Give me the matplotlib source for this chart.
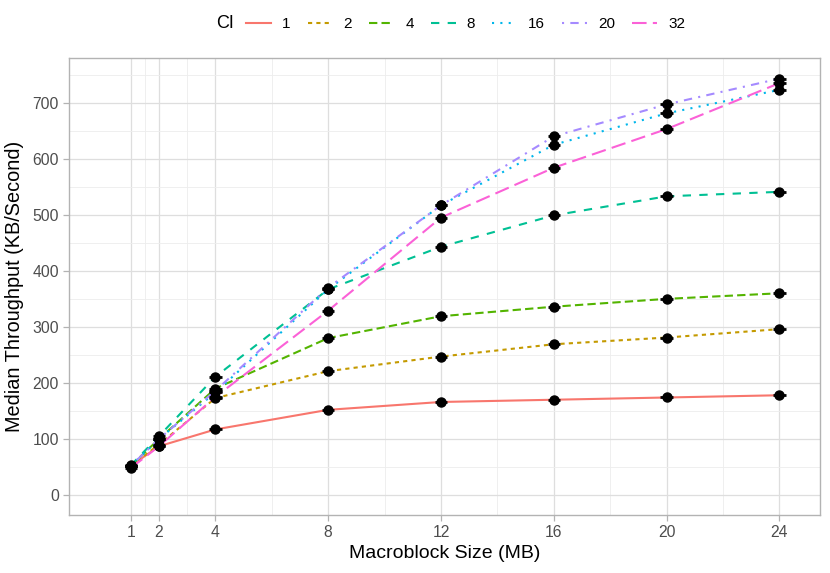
import matplotlib
matplotlib.use('Agg')
import matplotlib.pyplot as plt
import numpy as np

plt.rcParams['font.family'] = ['Liberation Sans', 'DejaVu Sans']

# macroblock sizes (MB)
sizes = [1, 2, 4, 8, 12, 16, 20, 24]
ci_levels = ['1', '2', '4', '8', '16', '20', '32']

# median throughput (KB/s) per CI level
tp_1 = [52, 87, 117, 152, 166, 170, 174, 178]
tp_2 = [52, 90, 173, 221, 247, 269, 281, 296]
tp_4 = [52, 100, 190, 280, 319, 336, 350, 360]
tp_8 = [53, 105, 211, 367, 443, 499, 533, 541]
tp_16 = [52, 100, 183, 367, 517, 625, 681, 723]
tp_20 = [52, 100, 186, 370, 517, 640, 697, 743]
tp_32 = [48, 87, 175, 329, 495, 584, 653, 735]
series = [tp_1, tp_2, tp_4, tp_8, tp_16, tp_20, tp_32]

# ggplot default hue palette and linetypes
colors = ['#F8766D', '#C49A00', '#53B400', '#00C094', '#00B6EB', '#A58AFF', '#FB61D7']
styles = ['-', (0, (2, 2)), (0, (4, 2)), (0, (4, 4)), (0, (1, 3)), (0, (1, 3, 4, 3)), (0, (7, 3))]

fig = plt.figure(figsize=(8.3, 5.73), dpi=100)
ax = fig.add_axes([0.0828, 0.1012, 0.988 - 0.0828, 0.898 - 0.1012])

lines = []
for vals, col, ls, lab in zip(series, colors, styles, ci_levels):
    l, = ax.plot(sizes, vals, color=col, linestyle=ls, linewidth=1.5, label=lab, zorder=3)
    lines.append(l)

for vals in series:
    ax.errorbar(sizes, vals, xerr=0.22, fmt='o', color='black', markersize=6.5,
                elinewidth=2, capsize=0, zorder=4)

ax.set_xlim(-1.2, 25.44)
ax.set_ylim(-35.7, 779)
ax.set_xticks(sizes)
ax.set_xticks([1.5, 3, 6, 10, 14, 18, 22], minor=True)
ax.set_yticks(np.arange(0, 701, 100))
ax.set_yticks(np.arange(50, 751, 100), minor=True)

ax.grid(which='major', color='#DEDEDE', linewidth=0.9, zorder=0)
ax.grid(which='minor', color='#EDEDED', linewidth=0.6, zorder=0)
ax.set_axisbelow(True)

for s in ax.spines.values():
    s.set_color('#B3B3B3')
    s.set_linewidth(1.0)
ax.tick_params(which='major', color='#B3B3B3', length=4, width=0.9,
               labelsize=11.3, labelcolor='#4D4D4D', pad=3)
ax.tick_params(which='minor', length=0)

ax.set_xlabel('Macroblock Size (MB)', fontsize=14, labelpad=4)
ax.set_ylabel('Median Throughput (KB/Second)', fontsize=14.3, labelpad=6)

fig.text(216 / 830, 1 - 24 / 573, 'CI', fontsize=13, va='center', ha='left')
fig.legend(handles=lines, loc='center left', bbox_to_anchor=(246 / 830, 1 - 24 / 573),
           ncol=7, frameon=False, fontsize=11, handlelength=1.65,
           handletextpad=0.72, columnspacing=1.1, borderaxespad=0, borderpad=0)

fig.savefig('out.png', dpi=100)
